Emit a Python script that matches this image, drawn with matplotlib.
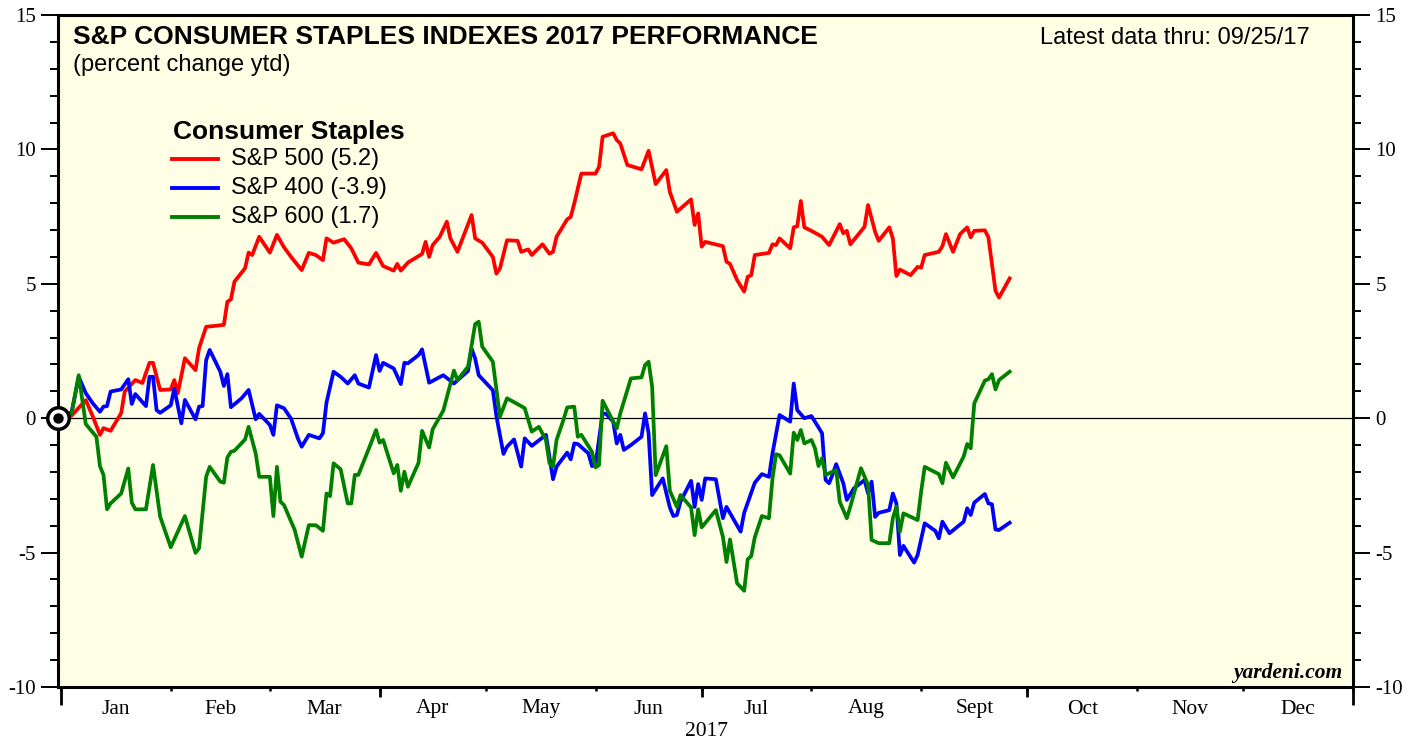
import matplotlib
matplotlib.use("Agg")
import matplotlib.pyplot as plt

plt.rcParams["axes.unicode_minus"] = False

# days since Jan 1 2017 (trading days), percent change ytd
sp500_days = [0, 3, 7, 9, 11, 12, 14, 17, 18, 21, 23, 25, 26, 28, 31, 32, 33, 35, 38, 39, 41, 46, 47, 48, 49,
              52, 53, 54, 56, 59, 61, 63, 65, 68, 70, 72, 74, 75, 77, 80, 82, 84, 87, 89, 91, 94, 95, 96, 98,
              102, 103, 104, 105, 107, 109, 110, 112, 116, 117, 119, 122, 123, 124, 126, 129, 130, 132, 133,
              136, 138, 139, 140, 143, 144, 145, 147, 151, 152, 153, 156, 157, 158, 160, 164, 166, 168, 171,
              172, 174, 178, 179, 180, 181, 182, 187, 188, 189, 191, 193, 194, 195, 196, 200, 201, 202, 203,
              206, 207, 208, 209, 210, 212, 215, 217, 220, 221, 222, 223, 227, 228, 230, 231, 234, 235, 236,
              237, 240, 242, 243, 244, 248, 249, 250, 252, 254, 256, 257, 258, 261, 262, 264, 265, 268]
sp500_vals = [0, 0.1, 0.67, 0.06, -0.62, -0.37, -0.47, 0.19, 0.99, 1.42, 1.31, 2.06, 2.06, 1.05, 1.07, 1.42,
              0.93, 2.23, 1.79, 2.6, 3.4, 3.47, 4.33, 4.42, 5.08, 5.58, 6.16, 6.07, 6.75, 6.16, 6.82, 6.36,
              6.0, 5.51, 6.15, 6.07, 5.88, 6.69, 6.53, 6.66, 6.32, 5.79, 5.72, 6.15, 5.66, 5.49, 5.74, 5.49,
              5.79, 6.11, 6.56, 6.0, 6.44, 6.75, 7.31, 6.69, 6.19, 7.56, 6.69, 6.53, 6.0, 5.38, 5.57, 6.62,
              6.6, 6.19, 6.28, 6.07, 6.47, 6.12, 6.19, 6.75, 7.4, 7.49, 7.99, 9.1, 9.1, 9.35, 10.47, 10.6,
              10.35, 10.22, 9.42, 9.26, 9.95, 8.71, 9.23, 8.42, 7.68, 8.14, 7.19, 7.62, 6.38, 6.56, 6.4,
              5.82, 5.74, 5.14, 4.71, 5.26, 5.32, 6.07, 6.15, 6.47, 6.44, 6.69, 6.32, 7.1, 7.14, 8.08, 7.1,
              6.97, 6.75, 6.44, 7.22, 6.88, 6.97, 6.47, 7.12, 7.93, 6.93, 6.6, 7.1, 6.69, 5.29, 5.53, 5.32,
              5.63, 5.6, 6.07, 6.19, 6.4, 6.85, 6.19, 6.85, 7.1, 6.73, 6.97, 6.99, 6.73, 4.74, 4.49, 5.2]

sp400_days = [0, 3, 5, 7, 9, 11, 12, 13, 14, 17, 19, 20, 21, 24, 25, 26, 27, 28, 31, 32, 34, 35, 38, 39, 40,
              41, 42, 45, 46, 47, 48, 51, 53, 55, 56, 59, 60, 61, 63, 65, 67, 68, 70, 73, 74, 75, 77, 79, 81,
              83, 84, 87, 89, 90, 91, 94, 96, 97, 98, 101, 102, 104, 108, 111, 115, 116, 117, 118, 122, 123,
              125, 126, 128, 130, 131, 133, 137, 139, 140, 143, 144, 145, 146, 149, 150, 151, 153, 154, 156,
              157, 158, 159, 161, 164, 165, 166, 167, 170, 172, 173, 174, 175, 178, 179, 180, 181, 182, 185,
              187, 188, 192, 193, 196, 198, 200, 201, 203, 206, 207, 208, 210, 212, 214, 215, 216, 217, 218,
              219, 221, 222, 224, 227, 228, 229, 230, 231, 234, 235, 236, 237, 238, 241, 242, 244, 247, 248,
              249, 251, 255, 256, 257, 258, 261, 262, 263, 264, 265, 268]
sp400_vals = [0, 0.23, 1.54, 0.93, 0.55, 0.24, 0.43, 0.45, 0.99, 1.07, 1.45, 0.53, 0.9, 0.45, 1.54, 1.54,
              0.3, 0.2, 0.48, 1.1, -0.19, 0.68, -0.04, 0.43, 0.45, 2.16, 2.54, 1.73, 1.2, 1.64, 0.41, 0.74,
              1.05, -0.04, 0.16, -0.25, -0.62, 0.48, 0.37, -0.02, -0.78, -1.06, -0.62, -0.75, -0.56, 0.58,
              1.73, 1.54, 1.29, 1.6, 1.29, 1.14, 2.35, 1.76, 2.06, 1.85, 1.27, 2.06, 2.04, 2.35, 2.56, 1.32,
              1.6, 1.29, 1.76, 2.59, 2.22, 1.6, 1.04, 0.08, -1.33, -1.06, -0.79, -1.8, -0.75, -1.03, -0.62,
              -2.27, -1.8, -1.28, -1.53, -0.94, -0.96, -1.31, -1.78, -1.74, 0.18, 0.16, -0.13, -0.94, -0.62,
              -1.18, -1.0, -0.69, 0.18, -0.56, -2.86, -2.24, -3.32, -3.64, -3.6, -3.11, -2.33, -3.3, -2.45,
              -3.04, -2.24, -2.27, -3.72, -3.3, -4.22, -3.52, -2.4, -2.08, -2.18, -1.31, 0.12, -0.13, 1.29,
              0.3, 0.0, 0.08, -0.34, -0.56, -2.3, -2.42, -2.08, -1.71, -2.42, -3.04, -2.61, -2.3, -2.8,
              -2.36, -3.67, -3.52, -3.42, -2.8, -3.17, -5.09, -4.75, -5.37, -5.09, -3.91, -4.19, -4.47,
              -3.85, -4.28, -3.85, -3.35, -3.6, -3.14, -2.82, -3.17, -3.2, -4.14, -4.16, -3.89]

sp600_days = [0, 3, 5, 6, 7, 10, 11, 12, 13, 14, 17, 19, 20, 21, 24, 26, 28, 31, 33, 35, 38, 39, 41, 42, 45,
              46, 47, 48, 49, 52, 53, 55, 56, 59, 60, 61, 62, 63, 66, 68, 70, 72, 74, 75, 76, 77, 79, 81, 82,
              83, 84, 87, 89, 90, 91, 94, 95, 96, 97, 98, 101, 102, 104, 105, 108, 111, 112, 115, 117, 118,
              119, 122, 124, 126, 130, 131, 133, 135, 137, 138, 139, 140, 142, 143, 145, 146, 147, 150, 151,
              152, 153, 157, 158, 159, 161, 164, 165, 166, 167, 168, 171, 172, 174, 175, 178, 179, 180, 181,
              185, 187, 188, 189, 191, 193, 194, 195, 196, 198, 200, 201, 202, 203, 206, 207, 208, 209, 210,
              212, 213, 214, 215, 216, 219, 220, 222, 223, 226, 228, 229, 231, 234, 235, 236, 237, 238, 242,
              243, 244, 248, 249, 250, 252, 255, 256, 257, 258, 261, 262, 263, 264, 265, 268]
sp600_vals = [0, 0.18, 1.6, 0.68, -0.22, -0.69, -1.78, -2.11, -3.39, -3.17, -2.8, -1.87, -3.14, -3.39,
              -3.39, -1.74, -3.66, -4.8, -4.22, -3.64, -5.01, -4.84, -2.18, -1.81, -2.36, -2.4, -1.46, -1.25,
              -1.21, -0.79, -0.32, -1.31, -2.18, -2.18, -3.64, -1.81, -3.11, -3.23, -4.15, -5.15, -3.98,
              -3.98, -4.19, -2.8, -2.9, -1.68, -1.9, -3.17, -3.17, -2.11, -2.11, -1.12, -0.44, -0.91, -0.81,
              -2.05, -1.74, -2.7, -1.99, -2.55, -1.66, -0.47, -1.09, -0.41, 0.28, 1.77, 1.42, 1.92, 3.5,
              3.59, 2.66, 2.1, 0.06, 0.74, 0.45, 0.37, -0.5, -0.32, -0.81, -1.68, -1.8, -0.81, -0.04, 0.4,
              0.43, -0.69, -0.62, -1.25, -1.83, -1.74, 0.65, -0.38, 0.18, 0.61, 1.48, 1.52, 1.98, 2.1, 1.17,
              -2.12, -1.04, -2.7, -3.3, -2.86, -3.32, -4.35, -3.39, -4.06, -3.42, -4.42, -5.35, -4.51,
              -6.14, -6.42, -5.25, -5.13, -4.43, -3.64, -3.72, -2.24, -1.34, -1.38, -2.06, -0.54, -0.81,
              -0.44, -0.94, -0.81, -1.12, -1.78, -1.49, -2.11, -1.93, -3.11, -3.72, -3.29, -1.86, -2.48,
              -4.53, -4.65, -4.65, -3.72, -3.29, -4.22, -3.54, -3.79, -2.73, -1.81, -2.08, -2.42, -1.66,
              -2.2, -1.43, -0.96, -1.12, 0.55, 1.4, 1.45, 1.64, 1.07, 1.42, 1.73]

month_starts = [0, 31, 59, 90, 120, 151, 181, 212, 243, 273, 304, 334, 365]
month_names = ["Jan", "Feb", "Mar", "Apr", "May", "Jun", "Jul", "Aug", "Sept", "Oct", "Nov", "Dec"]
series_labels = ["S&P 500 (5.2)", "S&P 400 (-3.9)", "S&P 600 (1.7)"]
series_colors = ["#ff0000", "#0000ff", "#008000"]

serif = "Liberation Serif"
sans = "Liberation Sans"

fig = plt.figure(figsize=(14.19, 7.42), dpi=100)
ax = fig.add_axes([58 / 1419, 55 / 742, 1295 / 1419, 672 / 742])
ax.set_facecolor("#ffffe6")

x0 = -0.85
ax.set_xlim(x0, 365)
ax.set_ylim(-10, 15)

ax.axhline(0, color="black", lw=0.9, zorder=2)
for d, v, c in [(sp500_days, sp500_vals, series_colors[0]),
                (sp400_days, sp400_vals, series_colors[1]),
                (sp600_days, sp600_vals, series_colors[2])]:
    ax.plot(d, v, color=c, lw=2.7, solid_joinstyle="round", zorder=3)

# start marker
ax.plot([x0], [0], marker="o", ms=15.5, mfc="white", mec="black", mew=2.5, clip_on=False, zorder=6)
ax.plot([x0], [0], marker="o", ms=6.5, mfc="black", mec="black", clip_on=False, zorder=7)

for s in ax.spines.values():
    s.set_linewidth(2.2)

# y axis on both sides
ax.set_yticks(range(-10, 16, 5))
ax.set_yticks(range(-10, 16), minor=True)
ax.tick_params(axis="y", which="both", left=True, right=True, labelleft=True, labelright=True,
               direction="out", width=1.4)
ax.tick_params(axis="y", which="major", length=12, labelsize=15, pad=4)
ax.tick_params(axis="y", which="minor", length=5.8)
for lab in ax.get_yticklabels():
    lab.set_fontfamily(serif)

# x axis: month labels centred, small ticks at month starts
mids = [(month_starts[i] + month_starts[i + 1]) / 2 for i in range(12)]
ax.set_xticks(mids)
ax.set_xticklabels(month_names, fontfamily=serif, fontsize=15.5)
ax.set_xticks(month_starts, minor=True)
ax.tick_params(axis="x", which="major", length=0, pad=9)
ax.tick_params(axis="x", which="minor", length=3, width=1.8, direction="out")

sec_q = ax.secondary_xaxis("bottom")
sec_q.set_xticks([90, 181, 273])
sec_q.set_xticklabels([])
sec_q.tick_params(length=7, width=2)
sec_q.spines["bottom"].set_visible(False)

sec_y = ax.secondary_xaxis("bottom")
sec_y.set_xticks([0, 365])
sec_y.set_xticklabels([])
sec_y.tick_params(length=13, width=2)
sec_y.spines["bottom"].set_visible(False)

fig.text(707 / 1419, 1 - 732 / 742, "2017", fontfamily=serif, fontsize=15.5, ha="center", va="center")

# titles
ax.text(0.0116, 0.957, "S&P CONSUMER STAPLES INDEXES 2017 PERFORMANCE", transform=ax.transAxes,
        fontfamily=sans, fontweight="bold", fontsize=19, va="baseline", ha="left")
ax.text(0.0116, 0.917, "(percent change ytd)", transform=ax.transAxes,
        fontfamily=sans, fontsize=17, va="baseline", ha="left")
ax.text(0.9668, 0.957, "Latest data thru: 09/25/17", transform=ax.transAxes,
        fontfamily=sans, fontsize=17, va="baseline", ha="right")
ax.text(0.9915, 0.0134, "yardeni.com", transform=ax.transAxes, fontfamily=serif,
        fontweight="bold", fontstyle="italic", fontsize=15.5, va="baseline", ha="right")

# legend
ax.text(0.0888, 0.8155, "Consumer Staples", transform=ax.transAxes, fontfamily=sans,
        fontweight="bold", fontsize=19, va="baseline", ha="left")
for yy, lab, c in zip([0.7853, 0.7421, 0.6998], series_labels, series_colors):
    ax.plot([0.0878, 0.1238], [yy, yy], color=c, lw=2.8, transform=ax.transAxes)
    ax.text(0.1336, yy, lab, transform=ax.transAxes, fontfamily=sans, fontsize=17,
            va="center", ha="left")

fig.savefig("out.png", dpi=100)
